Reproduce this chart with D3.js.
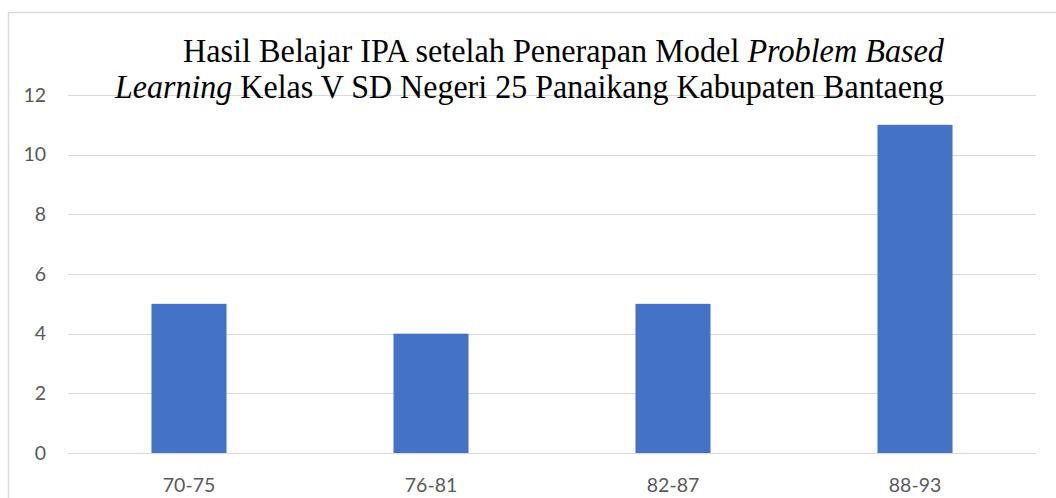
<!DOCTYPE html>
<html><head><meta charset="utf-8">
<script src="https://cdn.jsdelivr.net/npm/d3@7"></script>
<style>html,body{margin:0;padding:0;background:#fff;}svg{display:block;}</style>
</head><body>
<script>
const categories = ["70-75", "76-81", "82-87", "88-93"];
const values = [5, 4, 5, 11];
const yTicks = [0, 2, 4, 6, 8, 10, 12];

(function () {
const W = 1056, H = 498;
const svg = d3.select("body").append("svg").attr("width", W).attr("height", H);

// frame
svg.append("rect").attr("x", 8.5).attr("y", 12.5).attr("width", 1200).attr("height", 700)
  .attr("fill", "#fff").attr("stroke", "#d9d9d9").attr("stroke-width", 1.5);

const mLeft = 68, mRight = 1036, mTop = 95, mBottom = 453;
const x = d3.scaleBand().domain(categories).range([mLeft, mRight]).paddingInner(0.69).paddingOuter(0.345);
const y = d3.scaleLinear().domain([0, 12]).range([mBottom, mTop]);

// gridlines
svg.append("g").selectAll("line").data(yTicks).join("line")
  .attr("x1", mLeft).attr("x2", mRight)
  .attr("y1", d => Math.round(y(d)) + 0.5).attr("y2", d => Math.round(y(d)) + 0.5)
  .attr("stroke", "#d9d9d9").attr("stroke-width", 1);

// y axis labels
const yAxis = d3.axisLeft(y).tickValues(yTicks).tickSize(0).tickPadding(0);
const gy = svg.append("g").attr("transform", `translate(46,0)`).call(yAxis);
gy.select(".domain").remove();
gy.selectAll("text").attr("font-family", "Lato, 'Open Sans', sans-serif").attr("font-size", 19.5).attr("fill", "#595959");

// bars
svg.append("g").selectAll("rect").data(values).join("rect")
  .attr("x", (d, i) => x(categories[i])).attr("width", x.bandwidth())
  .attr("y", d => y(d)).attr("height", d => y(0) - y(d))
  .attr("fill", "#4472C4");

// x axis labels
const xAxis = d3.axisBottom(x).tickSize(0).tickPadding(0);
const gx = svg.append("g").attr("transform", `translate(0,${mBottom + 25})`).call(xAxis);
gx.select(".domain").remove();
gx.selectAll("text").attr("font-family", "Lato, 'Open Sans', sans-serif").attr("font-size", 19.5).attr("fill", "#595959");

// title
const tf = "'Liberation Serif', 'Times New Roman', serif";
const t1 = svg.append("text").attr("x", 183).attr("y", 62).attr("font-family", tf).attr("font-size", 33).attr("fill", "#000")
  .attr("textLength", 761).attr("lengthAdjust", "spacingAndGlyphs");
t1.append("tspan").text("Hasil Belajar IPA setelah Penerapan Model ");
t1.append("tspan").attr("font-style", "italic").text("Problem Based");
const t2 = svg.append("text").attr("x", 115).attr("y", 98).attr("font-family", tf).attr("font-size", 33).attr("fill", "#000")
  .attr("textLength", 829).attr("lengthAdjust", "spacingAndGlyphs");
t2.append("tspan").attr("font-style", "italic").text("Learning");
t2.append("tspan").text(" Kelas V SD Negeri 25 Panaikang Kabupaten Bantaeng");
})();
</script>
</body></html>
